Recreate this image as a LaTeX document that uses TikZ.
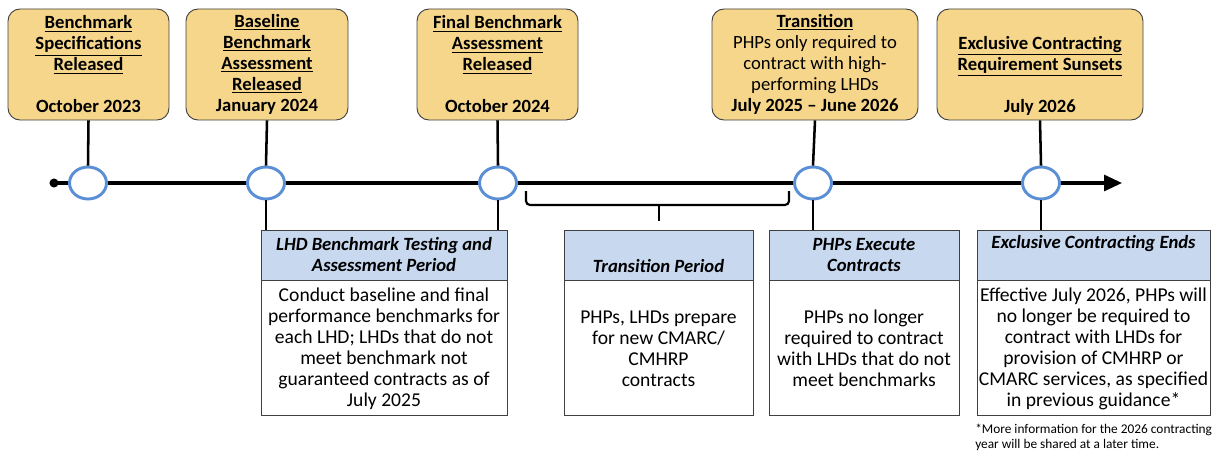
\documentclass[tikz,border=0pt]{standalone}
\usepackage{fontspec}
\setmainfont{Carlito}
\usetikzlibrary{arrows.meta,shapes.geometric}
\newdimen\pxu \pxu=0.75pt
\definecolor{boxgold}{HTML}{F6D68A}
\definecolor{headblue}{HTML}{C7D8EF}
\definecolor{ringblue}{HTML}{5B8FD5}
\definecolor{edgegray}{HTML}{404040}
\newcommand\uhead[1]{\underline{\textbf{#1}}}

\begin{document}
\begin{tikzpicture}[x=0.75pt,y=-0.75pt,
	milestone/.style={draw=edgegray,fill=boxgold,rounded corners=9pt,line width=0.7pt,minimum height=111\pxu,inner sep=0pt,align=center,font=\fontsize{14}{15.75}\selectfont},
	phasehead/.style={draw=edgegray,fill=headblue,line width=0.7pt,minimum height=50\pxu,inner sep=0pt,align=center,font=\fontsize{14}{15.75}\selectfont\bfseries\itshape},
	phasebody/.style={draw=edgegray,fill=white,line width=0.7pt,minimum height=135\pxu,inner sep=0pt,align=center,anchor=north,font=\fontsize{14.7}{15.75}\selectfont},
	ring/.style={ellipse,draw=ringblue,fill=white,line width=2.2pt,minimum width=37\pxu,minimum height=32\pxu,inner sep=0pt},
	stem/.style={line width=1.9pt},
	timeline/.style={line width=2.3pt}]
	\useasboundingbox (0,0) rectangle (1212,453);

	% milestones above the line
	\node[milestone,minimum width=161\pxu] (t1) at (88.5,64.5) {\uhead{Benchmark}\\ \uhead{Specifications}\\ \uhead{Released}\\ \strut\\ \textbf{October 2023}};
	\node[milestone,minimum width=162\pxu] (t2) at (267,64.5) {\uhead{Baseline}\\ \uhead{Benchmark}\\ \uhead{Assessment}\\ \uhead{Released}\\ \textbf{January 2024}};
	\node[milestone,minimum width=161\pxu] (t3) at (497.5,64.5) {\uhead{Final Benchmark}\\ \uhead{Assessment}\\ \uhead{Released}\\ \strut\\ \textbf{October 2024}};
	\node[milestone,minimum width=206\pxu] (t4) at (815,64.5) {\uhead{Transition}\\ PHPs only required to\\ contract with high-\\ performing LHDs\\ \textbf{July 2025 -- June 2026}};
	\node[milestone,minimum width=206\pxu] (t5) at (1040,64.5) {\strut\\ \uhead{Exclusive Contracting}\\ \uhead{Requirement Sunsets}\\ \strut\\ \textbf{July 2026}};

	% rings on the line
	\node[ring] (c1) at (88,183) {};
	\node[ring] (c2) at (266,183) {};
	\node[ring] (c3) at (498,183) {};
	\node[ring] (c4) at (813,183) {};
	\node[ring] (c5) at (1041,183) {};
	\coordinate (tlstart) at (54,183);
	\coordinate (tlend) at (1122,183);
	\fill (tlstart) circle[radius=3.4pt];
	\draw[timeline] (tlstart) -- (c1) (c1) -- (c2) (c2) -- (c3) (c3) -- (c4) (c4) -- (c5);
	\draw[timeline,-{Triangle[length=13.5pt,width=12pt]}] (c5) -- (tlend);

	% periods below the line
	\node[phasehead,minimum width=246\pxu] (h1) at (384,255) {LHD Benchmark Testing and\\ Assessment Period};
	\node[phasebody,minimum width=246\pxu] (b1) at (h1.south) {Conduct baseline and final\\ performance benchmarks for\\ each LHD; LHDs that do not\\ meet benchmark not\\ guaranteed contracts as of\\ July 2025};
	\node[phasehead,minimum width=189\pxu] (h2) at (658.5,255) {\strut\\ Transition Period};
	\node[phasebody,minimum width=189\pxu] (b2) at (h2.south) {PHPs, LHDs prepare\\ for new CMARC/\\ CMHRP\\ contracts};
	\node[phasehead,minimum width=190\pxu] (h3) at (864,255) {PHPs Execute\\ Contracts};
	\node[phasebody,minimum width=190\pxu] (b3) at (h3.south) {PHPs no longer\\ required to contract\\ with LHDs that do not\\ meet benchmarks};
	\node[phasehead,minimum width=233\pxu] (h4) at (1093.5,255) {\strut Exclusive Contracting Ends\\ \strut};
	\node[phasebody,minimum width=233\pxu] (b4) at (h4.south) {Effective July 2026, PHPs will\\ no longer be required to\\ contract with LHDs for\\ provision of CMHRP or\\ CMARC services, as specified\\ in previous guidance*};
	\node[anchor=north west,align=left,inner sep=0pt,font=\fontsize{10}{11.25}\selectfont] (note) at (975,424) {*More information for the 2026 contracting\\ year will be shared at a later time.};

	% stems
	\foreach \i in {1,...,5}
		\draw[stem] (t\i.south) -- (c\i.north);
	\draw[stem] (c2.south) -- (c2.south |- h1.north);
	\draw[stem] (c3.south) -- (c3.south |- h1.north);
	\draw[stem] (c4.south) -- (c4.south |- h3.north);
	\draw[stem] (c5.south) -- (c5.south |- h4.north);

	% bracket over the transition period
	\draw[line width=1.6pt,rounded corners=3pt] (526,191) -- (526,205) -- (789,205) -- (789,191);
	\draw[line width=1.6pt] (659,205) -- (659,221);
\end{tikzpicture}
\end{document}
